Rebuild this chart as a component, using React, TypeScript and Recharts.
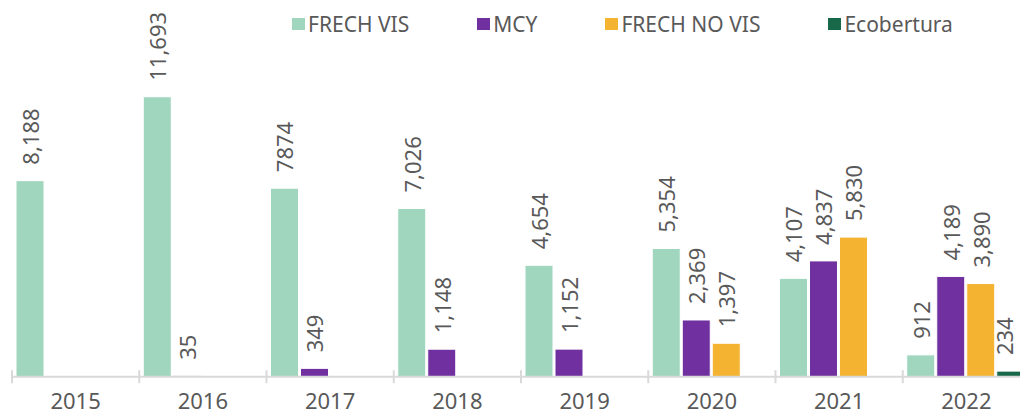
import React from 'react';
import { BarChart, Bar, XAxis, YAxis, Legend, LabelList } from 'recharts';

const years = ['2015', '2016', '2017', '2018', '2019', '2020', '2021', '2022'];
const frechVis = [8188, 11693, 7874, 7026, 4654, 5354, 4107, 912];
const frechVisLabels = ['8,188', '11,693', '7874', '7,026', '4,654', '5,354', '4,107', '912'];
const mcy = [null, 35, 349, 1148, 1152, 2369, 4837, 4189];
const frechNoVis = [null, null, null, null, null, 1397, 5830, 3890];
const ecobertura = [null, null, null, null, null, null, null, 234];

const series = [
    { key: 'frechVis', name: 'FRECH VIS', color: '#A0D6BE' },
    { key: 'mcy', name: 'MCY', color: '#7030A0' },
    { key: 'frechNoVis', name: 'FRECH NO VIS', color: '#F4B331' },
    { key: 'ecobertura', name: 'Ecobertura', color: '#17694A' },
];

const fmt = (v: number | null) => (v == null ? null : v.toLocaleString('en-US'));

const data = years.map((year, i) => ({
    year,
    frechVis: frechVis[i],
    frechVisLabel: frechVisLabels[i],
    mcy: mcy[i],
    mcyLabel: fmt(mcy[i]),
    frechNoVis: frechNoVis[i],
    frechNoVisLabel: fmt(frechNoVis[i]),
    ecobertura: ecobertura[i],
    ecoberturaLabel: fmt(ecobertura[i]),
}));

const FONT = '"Noto Sans", sans-serif';
const TEXT = '#595959';
const VIEW_W = 1020;
const CHART_W = 1040;
const CHART_H = 414;
const PLOT_LEFT = 12;
const PLOT_RIGHT = 10;
const BAND = (CHART_W - PLOT_LEFT - PLOT_RIGHT) / years.length;

// rotated value label sitting above each bar
const VerticalLabel = (props: any) => {
    const { x, y, width, value } = props;
    if (value == null || value === '') return null;
    // keep the label inside the visible window (last bar is half clipped)
    const cx = Math.min(x + width / 2, VIEW_W - 16);
    const cy = y - 16;
    return (
        <text
            x={cx}
            y={cy}
            transform={`rotate(-90, ${cx}, ${cy})`}
            textAnchor="start"
            dominantBaseline="central"
            fontSize={22}
            fill={TEXT}
            fontFamily={FONT}
        >
            {value}
        </text>
    );
};

// year label plus a tick mark on the left edge of each category
// (tick y comes in 8px below the axis line: tickSize 6 + tickMargin 2)
const YearTick = (props: any) => {
    const { x, y, payload } = props;
    const left = x - BAND / 2;
    const axisY = y - 8;
    return (
        <g>
            <line x1={left} x2={left} y1={axisY - 6.5} y2={axisY + 6.5} stroke="#D9D9D9" strokeWidth={2} />
            <text x={x} y={axisY + 32} textAnchor="middle" fontSize={22} fill={TEXT} fontFamily={FONT}>
                {payload.value}
            </text>
        </g>
    );
};

const LegendContent = () => (
    <div style={{ display: 'flex', gap: 68, fontFamily: FONT, fontSize: 21, color: TEXT, whiteSpace: 'nowrap' }}>
        {series.map(s => (
            <div key={s.key} style={{ display: 'flex', alignItems: 'center' }}>
                <span style={{ width: 13, height: 12, background: s.color, marginRight: 3, display: 'inline-block' }} />
                <span>{s.name}</span>
            </div>
        ))}
    </div>
);

const App: React.FC = () => {
    return (
        <div style={{ position: 'absolute', left: 0, top: 0, width: VIEW_W, height: 414, overflow: 'hidden', background: '#fff' }}>
            <BarChart
                width={CHART_W}
                height={CHART_H}
                data={data}
                margin={{ top: 89.4, right: PLOT_RIGHT, left: PLOT_LEFT, bottom: 0 }}
                barCategoryGap={4}
                barGap={2}
            >
                <XAxis
                    dataKey="year"
                    height={37.3}
                    axisLine={{ stroke: '#D9D9D9', strokeWidth: 2 }}
                    tickLine={false}
                    tick={<YearTick />}
                    interval={0}
                />
                <YAxis hide domain={[0, 12000]} />
                <Legend
                    layout="horizontal"
                    verticalAlign="middle"
                    align="center"
                    content={<LegendContent />}
                    wrapperStyle={{ top: 10, left: 292, width: 'auto', height: 'auto' }}
                />
                {series.map(s => (
                    <Bar key={s.key} dataKey={s.key} name={s.name} fill={s.color} stroke="#ffffff" strokeWidth={1} isAnimationActive={false}>
                        <LabelList dataKey={`${s.key}Label`} content={<VerticalLabel />} />
                    </Bar>
                ))}
            </BarChart>
        </div>
    );
};

export default App;
